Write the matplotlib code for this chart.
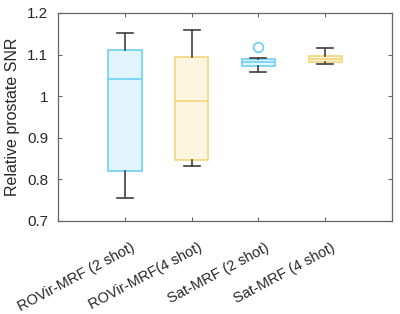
import matplotlib
matplotlib.use('Agg')
import matplotlib.pyplot as plt
from matplotlib.transforms import ScaledTranslation

plt.rcParams['font.family'] = ['Liberation Sans', 'DejaVu Sans']

labels = ['ROVir-MRF (2 shot)', 'ROVir-MRF(4 shot)', 'Sat-MRF (2 shot)', 'Sat-MRF (4 shot)']
whislo = [0.755, 0.832, 1.059, 1.078]
q1 = [0.820, 0.846, 1.073, 1.0815]
med = [1.041, 0.989, 1.082, 1.090]
q3 = [1.110, 1.095, 1.090, 1.0975]
whishi = [1.152, 1.159, 1.093, 1.116]
fliers = [[], [], [1.119], []]

edge_cols = ['#6dd0f8', '#f4d579', '#6dd0f8', '#f4d579']
fill_cols = ['#e2f4fc', '#fdf5e0', '#e2f4fc', '#fdf5e0']

stats = []
for i in range(len(labels)):
    stats.append(dict(label=labels[i], whislo=whislo[i], q1=q1[i], med=med[i],
                      q3=q3[i], whishi=whishi[i], fliers=fliers[i]))

fig = plt.figure(figsize=(4, 3.14), dpi=100)
ax = fig.add_axes([58/400, 1 - 221/314, 334/400, 208/314])

bp = ax.bxp(stats, positions=[1, 2, 3, 4], widths=0.5, patch_artist=True,
            capwidths=0.24, showfliers=True)
for i in range(4):
    bp['boxes'][i].set_facecolor(fill_cols[i])
    bp['boxes'][i].set_edgecolor(edge_cols[i])
    bp['boxes'][i].set_linewidth(1.2)
    bp['medians'][i].set_color(edge_cols[i])
    bp['medians'][i].set_linewidth(1.2)
    for w in bp['whiskers'][2*i:2*i+2]:
        w.set_color('#404040')
        w.set_linewidth(1.2)
    for c in bp['caps'][2*i:2*i+2]:
        c.set_color('#404040')
        c.set_linewidth(1.2)
    bp['fliers'][i].set_marker('o')
    bp['fliers'][i].set_markerfacecolor('none')
    bp['fliers'][i].set_markeredgecolor(edge_cols[i])
    bp['fliers'][i].set_markersize(7)
    bp['fliers'][i].set_markeredgewidth(1.3)

ax.set_xlim(0, 5)
ax.set_ylim(0.7, 1.2)
ax.set_yticks([0.7, 0.8, 0.9, 1.0, 1.1, 1.2])
ax.set_yticklabels(['0.7', '0.8', '0.9', '1', '1.1', '1.2'])
ax.set_xticks([1, 2, 3, 4])
ax.set_xticklabels(labels, rotation=28, ha='right', rotation_mode='anchor')
ax.tick_params(direction='in', top=True, right=True, length=3, width=0.8,
               color='#666666', labelsize=11, labelcolor='#262626')
ax.tick_params(axis='y', pad=7)
ax.tick_params(axis='x', pad=14, labelsize=10.5)
# nudge the rotated labels right so they end just under their ticks
shift = ScaledTranslation(6/100, 0, fig.dpi_scale_trans)
for lbl in ax.get_xticklabels():
    lbl.set_transform(lbl.get_transform() + shift)
for s in ax.spines.values():
    s.set_color('#666666')
    s.set_linewidth(0.9)
ax.set_ylabel('Relative prostate SNR', fontsize=11.5, color='#262626', labelpad=5)

fig.savefig('out.png', dpi=100)
